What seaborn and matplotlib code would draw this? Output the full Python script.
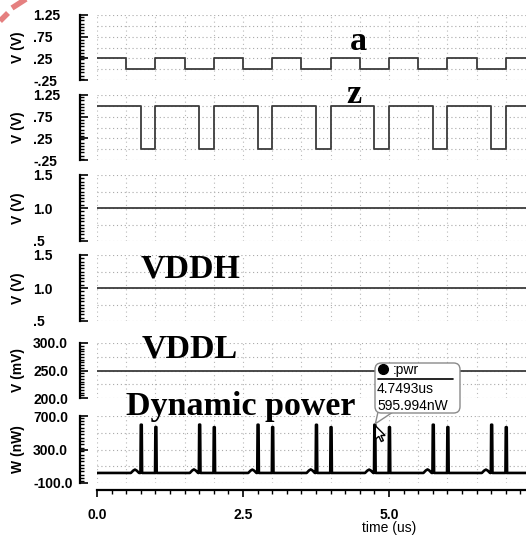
import numpy as np
import matplotlib
matplotlib.use("Agg")
import matplotlib.pyplot as plt
import seaborn as sns
from matplotlib.ticker import FixedLocator, MultipleLocator, NullLocator
from matplotlib.patches import FancyBboxPatch, Polygon
from matplotlib.lines import Line2D

FIG_W, FIG_H = 526, 540
T_END = 7.346  # us, right edge of the visible window

# ---- waveform data -------------------------------------------------------
# input a (V)
a_times = [0.0, 0.5, 1.0, 1.5, 2.0, 2.5, 3.0, 3.5, 4.0, 4.5, 5.0, 5.5, 6.0, 6.5, 7.0, T_END]
a_levels = [0.25, 0.0, 0.25, 0.0, 0.25, 0.0, 0.25, 0.0, 0.25, 0.0, 0.25, 0.0, 0.25, 0.0, 0.25, 0.25]

# output z (V)
z_times = [0.0, 0.75, 1.0, 1.75, 2.0, 2.75, 3.0, 3.75, 4.0, 4.75, 5.0, 5.75, 6.0, 6.75, 7.0, T_END]
z_levels = [1.0, 0.0, 1.0, 0.0, 1.0, 0.0, 1.0, 0.0, 1.0, 0.0, 1.0, 0.0, 1.0, 0.0, 1.0, 1.0]

# supplies
supply_times = [0.0, T_END]
vdd_levels = [1.0, 1.0]        # V
vddh_levels = [1.0, 1.0]       # V
vddl_levels = [250.0, 250.0]   # mV

# dynamic power (nW)
pwr_base = 20.0
spike_times = [0.75, 1.0, 1.75, 2.0, 2.75, 3.0, 3.75, 4.0, 4.7493, 5.0, 5.75, 6.0, 6.75, 7.0]
spike_peaks = [596, 568, 597, 566, 596, 567, 595, 566, 595.994, 566, 596, 567, 596, 566]
bump_times = [0.65, 1.66, 2.66, 3.66, 4.66, 5.66, 6.66]
bump_peaks = [60, 62, 60, 62, 60, 62, 60]

# axis ticks
volt_ticks = [-0.25, 0.25, 0.75, 1.25]
volt_ticklabels = ["-.25", ".25", ".75", "1.25"]
supply_ticks = [0.5, 1.0, 1.5]
supply_ticklabels = [".5", "1.0", "1.5"]
vddl_ticks = [200.0, 250.0, 300.0]
vddl_ticklabels = ["200.0", "250.0", "300.0"]
pwr_ticks = [-100.0, 300.0, 700.0]
pwr_ticklabels = ["-100.0", "300.0", "700.0"]
time_ticks = [0.0, 2.5, 5.0]
time_ticklabels = ["0.0", "2.5", "5.0"]

# cursor readout
marker_time = 4.7493
marker_value = 595.994

# ---- build the power trace from its switching events ----------------------
events = sorted([(t, "s", p) for t, p in zip(spike_times, spike_peaks)] +
                [(t, "b", p) for t, p in zip(bump_times, bump_peaks)])
pwr_t, pwr_v = [0.0], [pwr_base]
for t, kind, p in events:
    if kind == "s":
        pwr_t += [t - 0.006, t, t + 0.016, t + 0.022]
        pwr_v += [pwr_base, p, p, pwr_base]
    else:
        mid = pwr_base + 0.7 * (p - pwr_base)
        pwr_t += [t - 0.07, t - 0.03, t, t + 0.03, t + 0.07]
        pwr_v += [pwr_base, mid, p, mid, pwr_base]
pwr_t.append(T_END)
pwr_v.append(pwr_base)

# ---- styling --------------------------------------------------------------
sns.set_theme(style="white")
plt.rcParams["font.family"] = ["Liberation Sans", "DejaVu Sans"]
plt.rcParams["axes.facecolor"] = "white"

fig = plt.figure(figsize=(FIG_W / 100, FIG_H / 100), dpi=100)


def fx(x):
    return x / FIG_W


def fy(y):
    return 1 - y / FIG_H


LEFT_PX = 97
PX2PT = 72 / 100

panels = [
    dict(top=15, bot=80, lim=(-0.25, 1.25), ticks=volt_ticks, labels=volt_ticklabels,
         step=0.25, ylabel="V (V)"),
    dict(top=95, bot=160, lim=(-0.25, 1.25), ticks=volt_ticks, labels=volt_ticklabels,
         step=0.25, ylabel="V (V)"),
    dict(top=175, bot=241, lim=(0.5, 1.5), ticks=supply_ticks, labels=supply_ticklabels,
         step=0.25, ylabel="V (V)"),
    dict(top=255, bot=321, lim=(0.5, 1.5), ticks=supply_ticks, labels=supply_ticklabels,
         step=0.25, ylabel="V (V)"),
    dict(top=343, bot=398, lim=(200.0, 300.0), ticks=vddl_ticks, labels=vddl_ticklabels,
         step=25.0, ylabel="V (mV)"),
    dict(top=416, bot=483, lim=(-100.0, 700.0), ticks=pwr_ticks, labels=pwr_ticklabels,
         step=200.0, ylabel="W (nW)"),
]

axes = []
width_px = FIG_W - LEFT_PX
for p in panels:
    ax = fig.add_axes([fx(LEFT_PX), fy(p["bot"]), 1 - fx(LEFT_PX),
                       (p["bot"] - p["top"]) / FIG_H])
    ax.set_xlim(0, T_END)
    ax.set_ylim(*p["lim"])
    for s in ("top", "right", "bottom"):
        ax.spines[s].set_visible(False)
    ax.spines["left"].set_position(("outward", 17 * PX2PT))
    ax.spines["left"].set_linewidth(1.6)
    ax.spines["left"].set_color("black")
    ax.yaxis.set_major_locator(FixedLocator(p["ticks"]))
    ax.set_yticklabels(p["labels"])
    span = p["lim"][1] - p["lim"][0]
    ax.yaxis.set_minor_locator(MultipleLocator(span / 20))
    ax.tick_params(axis="y", which="major", direction="in", length=8 * PX2PT,
                   width=1.2, color="black", left=True, pad=47 * PX2PT,
                   labelsize=10, labelcolor="black")
    ax.tick_params(axis="y", which="minor", direction="in", length=4 * PX2PT,
                   width=1.0, color="black", left=True)
    for lbl in ax.get_yticklabels():
        lbl.set_horizontalalignment("left")
        lbl.set_fontweight("bold")
    ax.xaxis.set_major_locator(NullLocator())
    ax.tick_params(axis="x", bottom=False, labelbottom=False)
    ax.set_ylabel(p["ylabel"], fontsize=10, fontweight="bold", color="black")
    ax.yaxis.set_label_coords(-0.168, 0.5)
    # dotted background grid
    for gy in np.arange(p["lim"][0], p["lim"][1] + span * 1e-6, p["step"]):
        ax.axhline(gy, color="#a9a9a9", lw=0.8, ls=(0, (1, 2.5)), zorder=0)
    for gx in np.arange(0.0, T_END, 0.5):
        ax.axvline(gx, color="#b8b8b8", lw=0.8, ls=(0, (1, 3)), zorder=0)
    axes.append(ax)

ax_a, ax_z, ax_vdd, ax_vddh, ax_vddl, ax_pwr = axes

wave_kw = dict(color="#3c3c3c", lw=1.3, estimator=None, sort=False, legend=False)
sns.lineplot(x=a_times, y=a_levels, ax=ax_a, drawstyle="steps-post", **wave_kw)
sns.lineplot(x=z_times, y=z_levels, ax=ax_z, drawstyle="steps-post", **wave_kw)
sns.lineplot(x=supply_times, y=vdd_levels, ax=ax_vdd, **wave_kw)
sns.lineplot(x=supply_times, y=vddh_levels, ax=ax_vddh, **wave_kw)
sns.lineplot(x=supply_times, y=vddl_levels, ax=ax_vddl, **wave_kw)
sns.lineplot(x=pwr_t, y=pwr_v, ax=ax_pwr, color="black", lw=1.9,
             estimator=None, sort=False, legend=False)
for ax in axes:
    ax.set_xlabel("")
    ax.set_xlim(0, T_END)

# time axis under the power panel
ax_pwr.spines["bottom"].set_visible(True)
ax_pwr.spines["bottom"].set_position(("outward", 7 * PX2PT))
ax_pwr.spines["bottom"].set_linewidth(1.6)
ax_pwr.spines["bottom"].set_color("black")
ax_pwr.xaxis.set_major_locator(FixedLocator(time_ticks))
ax_pwr.set_xticklabels(time_ticklabels)
ax_pwr.xaxis.set_minor_locator(MultipleLocator(0.25))
ax_pwr.tick_params(axis="x", which="major", bottom=True, labelbottom=True,
                   direction="out", length=7 * PX2PT, width=1.2, color="black",
                   pad=11 * PX2PT, labelsize=10, labelcolor="black")
ax_pwr.tick_params(axis="x", which="minor", bottom=True, direction="out",
                   length=4 * PX2PT, width=1.0, color="black")
for lbl in ax_pwr.get_xticklabels():
    lbl.set_fontweight("bold")
ax_pwr.set_xlabel("time (us)", fontsize=10, color="black")
ax_pwr.xaxis.label.set_visible(True)
ax_pwr.xaxis.set_label_coords(fx(389), fy(521), transform=fig.transFigure)

# signal names
title_kw = dict(family=["Liberation Serif", "DejaVu Serif"], fontweight="bold",
                fontsize=24.5, color="black", ha="left", va="baseline")
fig.text(fx(350), fy(50), "a", **title_kw)
fig.text(fx(346), fy(103), "z", **title_kw)
fig.text(fx(141), fy(277), "VDDH", **title_kw)
fig.text(fx(142), fy(358), "VDDL", **title_kw)
fig.text(fx(126), fy(415), "Dynamic power", **title_kw)

# cursor readout balloon
tip = ax_pwr.transData.transform((marker_time, marker_value))
tip_x, tip_y = tip[0], FIG_H - tip[1]
tail = Polygon([(fx(378), fy(412)), (fx(tip_x + 1), fy(tip_y - 1)), (fx(393), fy(412))],
               closed=False, transform=fig.transFigure, facecolor="white",
               edgecolor="#8a8a8a", lw=1.0, zorder=9)
fig.patches.append(tail)
box = FancyBboxPatch((fx(375), fy(413)), fx(460) - fx(375), fy(363) - fy(413),
                     boxstyle="round,pad=0,rounding_size=0.012",
                     transform=fig.transFigure, facecolor="white",
                     edgecolor="#8a8a8a", lw=1.0, zorder=10)
fig.patches.append(box)
fig.lines.append(Line2D([fx(378), fx(453)], [fy(379), fy(379)], color="black",
                        lw=1.2, transform=fig.transFigure, zorder=11))
fig.lines.append(Line2D([fx(383)], [fy(369)], marker="o", markersize=7,
                        color="black", transform=fig.transFigure, zorder=11))
read_kw = dict(fontsize=10, color="black", ha="left", va="center", zorder=12)
fig.text(fx(393), fy(370), ":pwr", **read_kw)
fig.text(fx(377), fy(389), f"{marker_time:.4f}us", **read_kw)
fig.text(fx(377), fy(406), f"{marker_value:.3f}nW", **read_kw)

# mouse pointer
ptr = np.array([(0, 0), (0, 16), (4, 12.5), (7, 18.5), (9.5, 17.5), (6.5, 11.5), (11.5, 11.5)]) * 0.85
ptr_xy = [(fx(tip_x + 1 + px), fy(tip_y + 1 + py)) for px, py in ptr]
fig.patches.append(Polygon(ptr_xy, closed=True, transform=fig.transFigure,
                           facecolor="white", edgecolor="black", lw=1.0, zorder=13))

# corner ribbon
for (x0, y0), (x1, y1) in [((0, 21), (8, 13)), ((12, 8), (26, -1))]:
    fig.lines.append(Line2D([fx(x0), fx(x1)], [fy(y0), fy(y1)], color="#e58080",
                            lw=4.0, solid_capstyle="butt",
                            transform=fig.transFigure, zorder=14))

fig.savefig("out.png", dpi=100)
